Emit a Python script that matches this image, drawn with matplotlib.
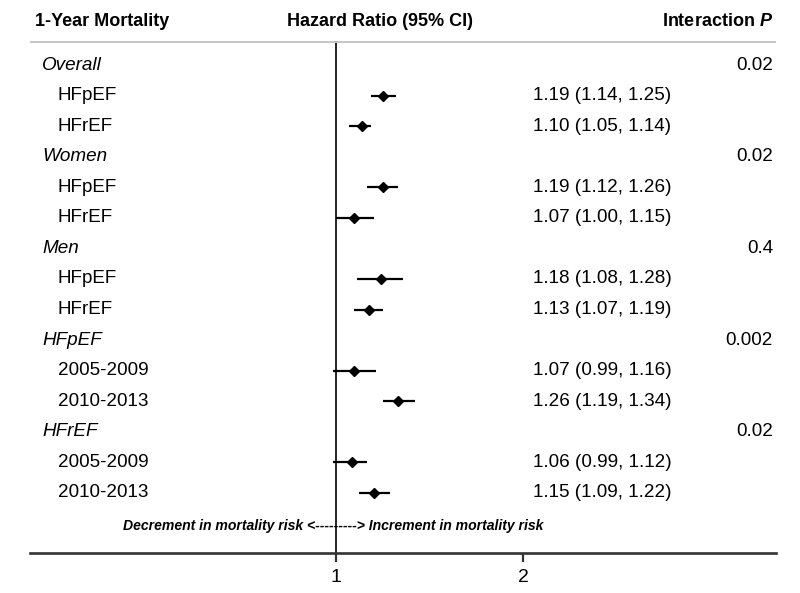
import matplotlib
matplotlib.use("Agg")
import matplotlib.pyplot as plt
import matplotlib.transforms as mtransforms

plt.rcParams["font.family"] = ["Liberation Sans", "DejaVu Sans"]
plt.rcParams["mathtext.fontset"] = "custom"
plt.rcParams["mathtext.it"] = "Liberation Sans:italic:bold"

# Data
groups = ["Overall", "Women", "Men", "HFpEF", "HFrEF"]
subgroups = [["HFpEF", "HFrEF"], ["HFpEF", "HFrEF"], ["HFpEF", "HFrEF"],
             ["2005-2009", "2010-2013"], ["2005-2009", "2010-2013"]]
hr = [1.19, 1.10, 1.19, 1.07, 1.18, 1.13, 1.07, 1.26, 1.06, 1.15]
ci_low = [1.14, 1.05, 1.12, 1.00, 1.08, 1.07, 0.99, 1.19, 0.99, 1.09]
ci_high = [1.25, 1.14, 1.26, 1.15, 1.28, 1.19, 1.16, 1.34, 1.12, 1.22]
p_values = ["0.02", "0.02", "0.4", "0.002", "0.02"]
ticks = [1, 2]

W, H = 800, 593
fig = plt.figure(figsize=(W / 100, H / 100), dpi=100)

# axes spans px 30..776 horizontally, 0..553 vertically
ax_left, ax_right, ax_bottom = 30, 776, 553
ax = fig.add_axes([ax_left / W, (H - ax_bottom) / H, (ax_right - ax_left) / W, ax_bottom / H])

# row positions: row 0 at px 65, step 30.57 px
row0, step = 65, 30.57
ax.set_ylim((ax_bottom - row0) / step, -row0 / step)
ax.set_xscale("log")
ax.set_xlim(0.3217, 5.109)

fx = mtransforms.blended_transform_factory(fig.transFigure, ax.transData)
fs = 13.6

row = 0
k = 0
for g, subs, p in zip(groups, subgroups, p_values):
    ax.text(42 / W, row, g, transform=fx, fontsize=fs, style="italic",
            va="center", ha="left")
    ax.text(773 / W, row, p, transform=fx, fontsize=fs, va="center", ha="right")
    row += 1
    for s in subs:
        ax.text(58 / W, row, s, transform=fx, fontsize=fs, va="center", ha="left")
        ax.plot([ci_low[k], ci_high[k]], [row, row], color="black", lw=1.6,
                solid_capstyle="butt")
        ax.plot(hr[k], row, marker="D", color="black", ms=5.3)
        ax.text(533 / W, row, f"{hr[k]:.2f} ({ci_low[k]:.2f}, {ci_high[k]:.2f})",
                transform=fx, fontsize=fs, va="center", ha="left")
        row += 1
        k += 1

# reference line and header rule
hdr_y = (42 - row0) / step
ax.axvline(1, ymin=0, ymax=(ax_bottom - 42) / ax_bottom, color="black", lw=1.2)
ax.axhline(hdr_y, color="#c0c0c0", lw=1.3)

ax.text(333 / W, (526 - row0) / step,
        "Decrement in mortality risk <---------> Increment in mortality risk",
        transform=fx, fontsize=10.1, style="italic", fontweight="bold",
        va="center", ha="center")

# headers
hy = 1 - 21 / H
fig.text(35 / W, hy, "1-Year Mortality", fontsize=13, fontweight="bold", va="center", ha="left")
fig.text(380 / W, hy, "Hazard Ratio (95% CI)", fontsize=13, fontweight="bold", va="center", ha="center")
fig.text(773 / W, hy, "Interaction $P$", fontsize=13, fontweight="bold", va="center", ha="right")

# axis styling
for s in ["top", "left", "right"]:
    ax.spines[s].set_visible(False)
ax.spines["bottom"].set_color("#333333")
ax.spines["bottom"].set_linewidth(1.9)
ax.set_yticks([])
ax.set_xticks(ticks)
ax.set_xticklabels([str(t) for t in ticks])
ax.minorticks_off()
ax.tick_params(axis="x", which="major", length=6.5, width=1.6, color="#333333",
               labelsize=14, pad=5)
ax.patch.set_alpha(0)

fig.savefig("out.png", dpi=100)
